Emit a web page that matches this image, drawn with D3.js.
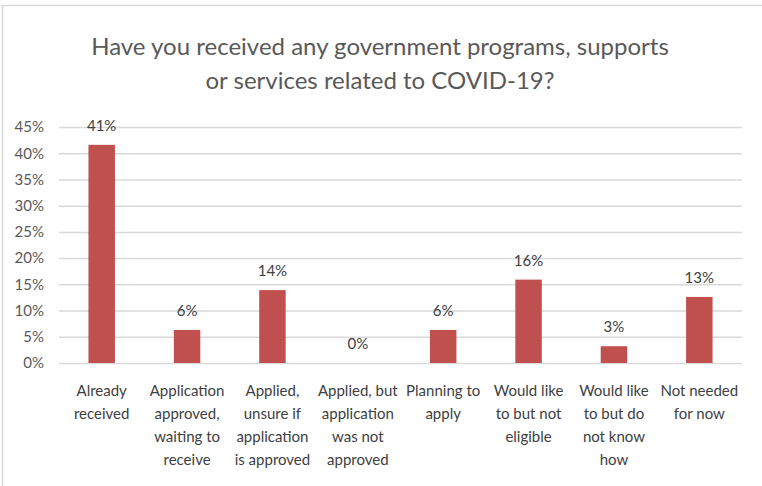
<!DOCTYPE html>
<html><head><meta charset="utf-8">
<script src="https://cdn.jsdelivr.net/npm/d3@7"></script>
<style>
body{margin:0;background:#fff;}
svg{display:block;font-family:Lato, "Open Sans", sans-serif;}
</style></head>
<body>
<svg id="chart" width="762" height="486"></svg>
<script>
const categories = [
  ["Already","received"],
  ["Application","approved,","waiting to","receive"],
  ["Applied,","unsure if","application","is approved"],
  ["Applied, but","application","was not","approved"],
  ["Planning to","apply"],
  ["Would like","to but not","eligible"],
  ["Would like","to but do","not know","how"],
  ["Not needed","for now"]
];
const values = [0.416, 0.063, 0.139, 0, 0.063, 0.159, 0.032, 0.126];
const valueLabels = ["41%","6%","14%","0%","6%","16%","3%","13%"];
const yTicks = [0,0.05,0.10,0.15,0.20,0.25,0.30,0.35,0.40,0.45];
const titleLines = ["Have you received any government programs, supports","or services related to COVID-19?"];

const svg = d3.select("#chart");
const W = 762, H = 486;

// frame
svg.append("line").attr("x1",2.5).attr("x2",2.5).attr("y1",5).attr("y2",H).attr("stroke","#d9d9d9").attr("stroke-width",1.5);
svg.append("line").attr("x1",2).attr("x2",W).attr("y1",5.5).attr("y2",5.5).attr("stroke","#d9d9d9").attr("stroke-width",1.5);

const x = d3.scaleBand().domain(d3.range(categories.length)).range([59, 742]).paddingInner(0.69).paddingOuter(0.345);
const y = d3.scaleLinear().domain([0,0.45]).range([363,127]);

// title
svg.append("text").attr("x",380).attr("y",55).attr("text-anchor","middle")
  .attr("fill","#595959").style("font-size","24px")
  .selectAll("tspan").data(titleLines).join("tspan")
  .attr("x",380).attr("dy",(d,i)=>i?34:0).text(d=>d);

// grid
const yAxis = d3.axisLeft(y).tickValues(yTicks).tickFormat(d3.format(".0%")).tickSize(-(742-59)).tickPadding(15);
const gy = svg.append("g").attr("transform","translate(59,0)").call(yAxis);
gy.select(".domain").remove();
gy.selectAll(".tick line").attr("stroke","#d9d9d9").attr("stroke-width",1.5);
gy.selectAll(".tick text").attr("fill","#595959").style("font-size","15px").style("font-family","Lato, sans-serif");

// bars
svg.append("g").selectAll("rect").data(values).join("rect")
  .attr("x",(d,i)=>x(i)).attr("width",x.bandwidth())
  .attr("y",d=>y(d)).attr("height",d=>y(0)-y(d))
  .attr("fill","#c0504d");

// value labels
svg.append("g").selectAll("text").data(values).join("text")
  .attr("x",(d,i)=>x(i)+x.bandwidth()/2).attr("y",d=>y(d)-14)
  .attr("text-anchor","middle").attr("fill","#404040").style("font-size","15px")
  .text((d,i)=>valueLabels[i]);

// category labels
const cat = svg.append("g").selectAll("text").data(categories).join("text")
  .attr("x",(d,i)=>x(i)+x.bandwidth()/2).attr("y",396)
  .attr("text-anchor","middle").attr("fill","#404040").style("font-size","15px");
cat.selectAll("tspan").data((d,i)=>d.map(t=>({t,i}))).join("tspan")
  .attr("x",d=>x(d.i)+x.bandwidth()/2).attr("dy",(d,j)=>j?23:0).text(d=>d.t);
</script>
</body></html>
